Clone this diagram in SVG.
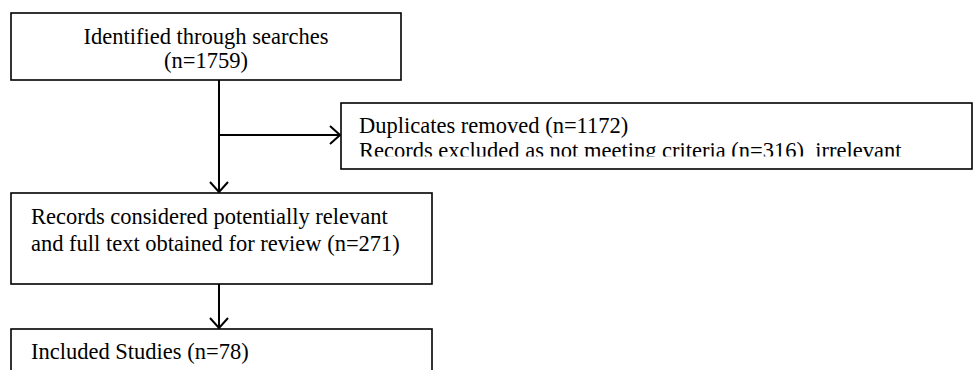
<svg xmlns="http://www.w3.org/2000/svg" width="974" height="370" viewBox="0 0 974 370">
<style>
.box{fill:#fff;stroke:#000;stroke-width:1.6}
.t{font-family:"Liberation Serif","Times New Roman",serif;font-size:22.5px;fill:#000}
.c{fill:none;stroke:#000;stroke-width:2}
</style>
<defs>
<marker id="ah" viewBox="0 0 12 20" refX="11" refY="10" markerWidth="12" markerHeight="20" markerUnits="userSpaceOnUse" orient="auto">
<path d="M1,1 L11,10 L1,19" fill="none" stroke="#000" stroke-width="2"/>
</marker>
<clipPath id="clip2"><rect x="341" y="104" width="631" height="52.5"/></clipPath>
</defs>
<rect width="974" height="370" fill="#fff"/>
<g id="n1">
<rect class="box" x="11" y="13" width="390" height="67"/>
<text class="t" x="206" y="44" text-anchor="middle">Identified through searches</text>
<text class="t" x="206" y="68" text-anchor="middle">(n=1759)</text>
</g>
<g id="n2">
<rect class="box" x="341" y="103" width="631" height="66"/>
<g clip-path="url(#clip2)">
<text class="t" x="359" y="133">Duplicates removed (n=1172)</text>
<text class="t" x="359" y="157.5" xml:space="preserve">Records excluded as not meeting criteria (n=316)  irrelevant</text>
</g>
</g>
<g id="n3">
<rect class="box" x="11" y="193" width="421" height="91"/>
<text class="t" x="31" y="224">Records considered potentially relevant</text>
<text class="t" x="31" y="251">and full text obtained for review (n=271)</text>
</g>
<g id="n4">
<rect class="box" x="11" y="329" width="421" height="60"/>
<text class="t" x="31" y="359">Included Studies (n=78)</text>
</g>
<g id="connectors">
<path class="c" d="M219,80 V192" marker-end="url(#ah)"/>
<path class="c" d="M219,135 H340" marker-end="url(#ah)"/>
<path class="c" d="M219,284 V328" marker-end="url(#ah)"/>
</g>
</svg>
